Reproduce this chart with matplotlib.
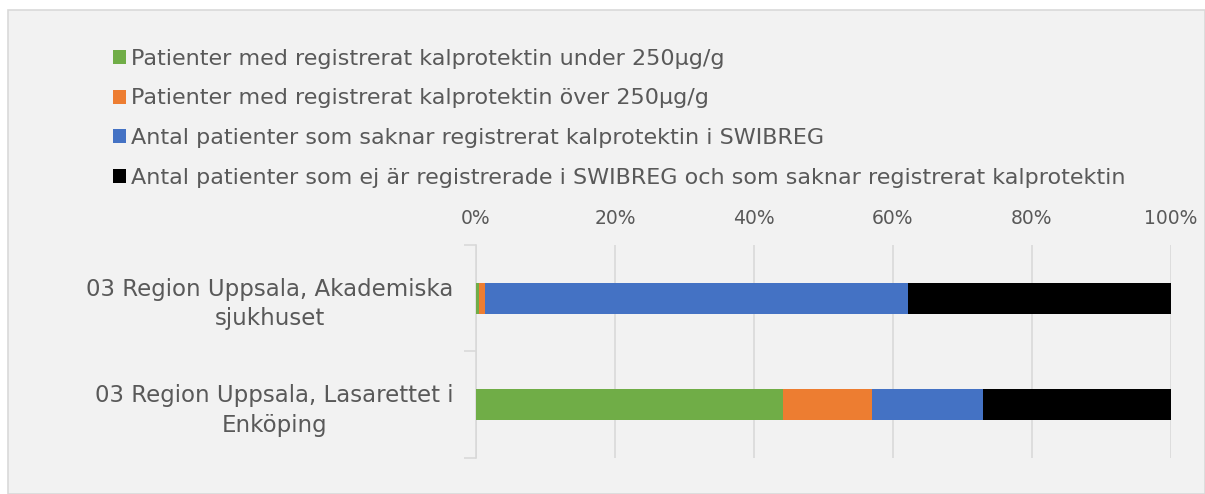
import matplotlib.pyplot as plt
from matplotlib.patches import Rectangle, Patch
import numpy as np

categories = ["03 Region Uppsala, Akademiska\nsjukhuset",
              "03 Region Uppsala, Lasarettet i\nEnköping"]
series_names = ["Patienter med registrerat kalprotektin under 250µg/g",
                "Patienter med registrerat kalprotektin över 250µg/g",
                "Antal patienter som saknar registrerat kalprotektin i SWIBREG",
                "Antal patienter som ej är registrerade i SWIBREG och som saknar registrerat kalprotektin"]
under_250 = [0.4, 44.2]
over_250 = [0.9, 12.8]
saknar_swibreg = [60.8, 15.9]
ej_registrerade = [37.9, 27.1]
colors = ["#70ad47", "#ed7d31", "#4472c4", "#000000"]
xticks = [0, 20, 40, 60, 80, 100]

plt.rcParams['font.family'] = ['DejaVu Sans']
txt = "#595959"
grid = "#d9d9d9"

fig = plt.figure(figsize=(12.05, 4.94), dpi=100, facecolor="white")
# chart area background
fig.patches.append(Rectangle((8 / 1205, 0), 1 - 8 / 1205, 1 - 10 / 494,
                             transform=fig.transFigure, facecolor="#f2f2f2",
                             edgecolor=grid, linewidth=1.2, zorder=-10))

ax = fig.add_axes([476 / 1205, 1 - 458 / 494, 695 / 1205, 213 / 494])
ax.set_facecolor("none")

y = np.arange(len(categories))
left = np.zeros(len(categories))
data = [under_250, over_250, saknar_swibreg, ej_registrerade]
for vals, c, name in zip(data, colors, series_names):
    ax.barh(y, vals, left=left, height=0.29, color=c, label=name, zorder=3)
    left += np.array(vals)

ax.set_xlim(0, 100)
ax.set_ylim(1.5, -0.5)
ax.set_xticks(xticks)
ax.set_xticklabels([f"{t}%" for t in xticks])
ax.xaxis.tick_top()
ax.tick_params(axis='x', length=0, labelsize=13.5, labelcolor=txt, pad=12)
ax.grid(axis='x', color=grid, linewidth=1.2, zorder=0)
ax.set_yticks(y)
ax.set_yticklabels(categories, multialignment='center', linespacing=1.35)
ax.tick_params(axis='y', length=0, labelsize=16.5, labelcolor=txt, pad=16)
ax.set_yticks([-0.5, 0.5, 1.5], minor=True)
ax.tick_params(axis='y', which='minor', length=9, color=grid, width=1.2)
for s in ['top', 'right', 'bottom']:
    ax.spines[s].set_visible(False)
ax.spines['left'].set_color(grid)
ax.spines['left'].set_linewidth(1.2)

handles = [Patch(facecolor=c, edgecolor='none') for c in colors]
leg = fig.legend(handles, series_names, loc='upper left',
                 bbox_to_anchor=(104 / 1205, 1 - 40 / 494), frameon=False,
                 fontsize=16, labelcolor=txt, handlelength=0.6, handleheight=0.6,
                 handletextpad=0.2, labelspacing=0.88, borderaxespad=0)

fig.savefig("out.png", dpi=100, facecolor=fig.get_facecolor())
